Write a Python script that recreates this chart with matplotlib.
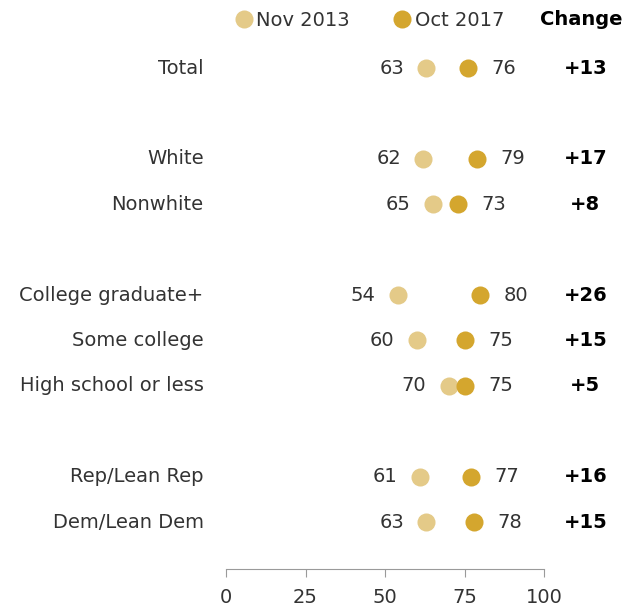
import matplotlib.pyplot as plt
from matplotlib.lines import Line2D

groups = ["Total", "White", "Nonwhite", "College graduate+", "Some college",
          "High school or less", "Rep/Lean Rep", "Dem/Lean Dem"]
rows = [0, 2, 3, 5, 6, 7, 9, 10]
nov_2013 = [63, 62, 65, 54, 60, 70, 61, 63]
oct_2017 = [76, 79, 73, 80, 75, 75, 77, 78]
changes = ["+13", "+17", "+8", "+26", "+15", "+5", "+16", "+15"]
ticks = [0, 25, 50, 75, 100]

light = "#E4CA88"
dark = "#D4A62E"
txt = "#333333"

plt.rcParams["font.family"] = ["DejaVu Sans"]
fs = 14

fig = plt.figure(figsize=(6.26, 6.07), dpi=100)
ax = fig.add_axes([226 / 626, 38 / 607, 318 / 626, 569 / 607])

ax.plot(nov_2013, rows, "o", color=light, ms=13, mec="none", zorder=3)
ax.plot(oct_2017, rows, "o", color=dark, ms=13, mec="none", zorder=4)

for r, g, a, b, c in zip(rows, groups, nov_2013, oct_2017, changes):
    lo, hi = min(a, b), max(a, b)
    ax.annotate(str(lo), (lo, r), xytext=(-16, 0), textcoords="offset points",
                ha="right", va="center", fontsize=fs, color=txt)
    ax.annotate(str(hi), (hi, r), xytext=(17, 0), textcoords="offset points",
                ha="left", va="center", fontsize=fs, color=txt)
    ax.text(-7, r, g, ha="right", va="center", fontsize=fs, color=txt)
    ax.text(113, r, c, ha="center", va="center", fontsize=fs,
            fontweight="bold", color="black")

ax.text(124.6, -1.06, "Change", ha="right", va="center", fontsize=fs,
        fontweight="bold", color="black")

handles = [Line2D([], [], marker="o", ls="none", color=light, ms=13, mec="none"),
           Line2D([], [], marker="o", ls="none", color=dark, ms=13, mec="none")]
leg = fig.legend(handles, ["Nov 2013", "Oct 2017"], ncol=2, frameon=False,
                 loc="center left", bbox_to_anchor=(234 / 626, 1 - 20 / 607),
                 handletextpad=0.15, columnspacing=2.2, fontsize=fs,
                 handlelength=1.0, borderpad=0, borderaxespad=0)
for t in leg.get_texts():
    t.set_color(txt)

ax.set_xlim(0, 100)
ax.set_ylim(11.035, -1.498)
ax.set_xticks(ticks)
ax.set_yticks([])
for s in ["top", "right", "left"]:
    ax.spines[s].set_visible(False)
ax.spines["bottom"].set_color("#9a9a9a")
ax.tick_params(axis="x", colors="#9a9a9a", length=6, labelsize=fs,
               labelcolor=txt, pad=8)
ax.patch.set_alpha(0)

fig.savefig("out.png", dpi=100)
